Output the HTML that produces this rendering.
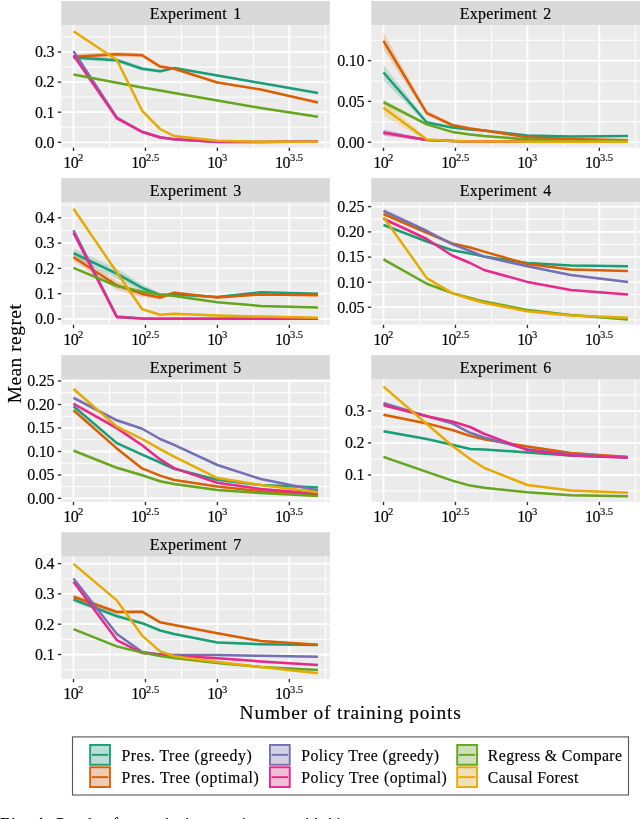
<!DOCTYPE html>
<html><head><meta charset="utf-8"><style>
html,body{margin:0;padding:0;background:#fff}
body{width:640px;height:819px;overflow:hidden;position:relative}
svg{position:absolute;left:0;top:0;display:block;will-change:transform}
text{font-family:"Liberation Serif", serif;fill:#000;stroke:#000;stroke-width:0.15px}
.st{font-size:16px;letter-spacing:0.27px;word-spacing:1.9px}
.tl{font-size:16px;letter-spacing:-0.25px}
.xl{font-size:16px;letter-spacing:-0.6px}
.sup{font-size:10.6px;letter-spacing:0}
.lg{font-size:15.8px}
.xt{font-size:19.4px;letter-spacing:0.8px}
.yt{font-size:19.4px;letter-spacing:0.5px}
.cap{font-size:15px;letter-spacing:0.5px}
.ma{stroke:#fff;stroke-width:1.8}
.mi{stroke:#fff;stroke-width:1.0}
.tk{stroke:#333;stroke-width:1.4}
</style></head><body>
<svg width="640" height="819" viewBox="0 0 640 819">
<g><rect x="61.25" y="1" width="268.75" height="24.4" fill="#D9D9D9"/><text x="195.62" y="18.75" text-anchor="middle" class="st">Experiment 1</text><rect x="61.25" y="25.4" width="268.75" height="122.2" fill="#EBEBEB"/><line x1="61.25" x2="330" y1="127.25" y2="127.25" class="mi"/><line x1="61.25" x2="330" y1="97.15" y2="97.15" class="mi"/><line x1="61.25" x2="330" y1="67.05" y2="67.05" class="mi"/><line x1="61.25" x2="330" y1="36.95" y2="36.95" class="mi"/><line x1="109.47" x2="109.47" y1="25.4" y2="147.6" class="mi"/><line x1="181.43" x2="181.43" y1="25.4" y2="147.6" class="mi"/><line x1="253.38" x2="253.38" y1="25.4" y2="147.6" class="mi"/><line x1="325.33" x2="325.33" y1="25.4" y2="147.6" class="mi"/><line x1="61.25" x2="330" y1="142.3" y2="142.3" class="ma"/><line x1="57.85" x2="61.25" y1="142.3" y2="142.3" class="tk"/><text x="54.25" y="147.6" text-anchor="end" class="tl">0.0</text><line x1="61.25" x2="330" y1="112.2" y2="112.2" class="ma"/><line x1="57.85" x2="61.25" y1="112.2" y2="112.2" class="tk"/><text x="54.25" y="117.5" text-anchor="end" class="tl">0.1</text><line x1="61.25" x2="330" y1="82.1" y2="82.1" class="ma"/><line x1="57.85" x2="61.25" y1="82.1" y2="82.1" class="tk"/><text x="54.25" y="87.4" text-anchor="end" class="tl">0.2</text><line x1="61.25" x2="330" y1="52" y2="52" class="ma"/><line x1="57.85" x2="61.25" y1="52" y2="52" class="tk"/><text x="54.25" y="57.3" text-anchor="end" class="tl">0.3</text><line x1="73.5" x2="73.5" y1="25.4" y2="147.6" class="ma"/><line x1="73.5" x2="73.5" y1="147.6" y2="151" class="tk"/><text x="73.3" y="168" text-anchor="middle" class="xl">10<tspan dy="-6.8" class="sup">2</tspan></text><line x1="145.45" x2="145.45" y1="25.4" y2="147.6" class="ma"/><line x1="145.45" x2="145.45" y1="147.6" y2="151" class="tk"/><text x="145.25" y="168" text-anchor="middle" class="xl">10<tspan dy="-6.8" class="sup">2.5</tspan></text><line x1="217.4" x2="217.4" y1="25.4" y2="147.6" class="ma"/><line x1="217.4" x2="217.4" y1="147.6" y2="151" class="tk"/><text x="217.2" y="168" text-anchor="middle" class="xl">10<tspan dy="-6.8" class="sup">3</tspan></text><line x1="289.35" x2="289.35" y1="25.4" y2="147.6" class="ma"/><line x1="289.35" x2="289.35" y1="147.6" y2="151" class="tk"/><text x="289.15" y="168" text-anchor="middle" class="xl">10<tspan dy="-6.8" class="sup">3.5</tspan></text><polygon points="73.5,55.3 116.82,58.3 142.16,66.75 160.14,69.75 174.08,66.6 217.4,74.6 260.72,82.1 317.98,92 317.98,94 260.72,84.1 217.4,76.6 174.08,69.6 160.14,72.75 142.16,70.75 116.82,62.3 73.5,59.7" fill="#1B9E77" fill-opacity="0.22"/><polygon points="73.5,54 116.82,51.8 142.16,53.1 160.14,65.1 174.08,67.25 217.4,81.5 260.72,88.5 317.98,101.5 317.98,103.5 260.72,90.5 217.4,83.5 174.08,70.25 160.14,68.1 142.16,57.5 116.82,56.8 73.5,59.6" fill="#D95F02" fill-opacity="0.22"/><polygon points="73.5,50.1 116.82,116.5 142.16,130.8 160.14,136.3 174.08,138.2 217.4,140.8 260.72,141 317.98,140.6 317.98,142.6 260.72,143 217.4,142.8 174.08,140.2 160.14,138.3 142.16,132.8 116.82,118.5 73.5,52.1" fill="#7570B3" fill-opacity="0.22"/><polygon points="73.5,54.4 116.82,117.4 142.16,131 160.14,136.5 174.08,138.2 217.4,140.9 260.72,141 317.98,140.6 317.98,142.6 260.72,143 217.4,142.9 174.08,140.2 160.14,138.5 142.16,133 116.82,119.4 73.5,56.4" fill="#E7298A" fill-opacity="0.22"/><polygon points="73.5,73.4 116.82,81.8 142.16,86.5 160.14,89.6 174.08,92.1 217.4,99.5 260.72,107 317.98,115.75 317.98,117.75 260.72,109 217.4,101.5 174.08,94.1 160.14,91.6 142.16,88.5 116.82,83.8 73.5,75.4" fill="#66A61E" fill-opacity="0.22"/><polygon points="73.5,30.25 116.82,59 142.16,109.8 160.14,128 174.08,135 217.4,139.8 260.72,140.75 317.98,140.75 317.98,142.75 260.72,142.75 217.4,141.8 174.08,137 160.14,130 142.16,111.8 116.82,61 73.5,32.25" fill="#E6AB02" fill-opacity="0.22"/><polyline points="73.5,57.5 116.82,60.3 142.16,68.75 160.14,71.25 174.08,68.1 217.4,75.6 260.72,83.1 317.98,93" fill="none" stroke="#1B9E77" stroke-width="2.5" stroke-linejoin="round"/><polyline points="73.5,56.8 116.82,54.3 142.16,55.3 160.14,66.6 174.08,68.75 217.4,82.5 260.72,89.5 317.98,102.5" fill="none" stroke="#D95F02" stroke-width="2.5" stroke-linejoin="round"/><polyline points="73.5,51.1 116.82,117.5 142.16,131.8 160.14,137.3 174.08,139.2 217.4,141.8 260.72,142 317.98,141.6" fill="none" stroke="#7570B3" stroke-width="2.5" stroke-linejoin="round"/><polyline points="73.5,55.4 116.82,118.4 142.16,132 160.14,137.5 174.08,139.2 217.4,141.9 260.72,142 317.98,141.6" fill="none" stroke="#E7298A" stroke-width="2.5" stroke-linejoin="round"/><polyline points="73.5,74.4 116.82,82.8 142.16,87.5 160.14,90.6 174.08,93.1 217.4,100.5 260.72,108 317.98,116.75" fill="none" stroke="#66A61E" stroke-width="2.5" stroke-linejoin="round"/><polyline points="73.5,31.25 116.82,60 142.16,110.8 160.14,129 174.08,136 217.4,140.8 260.72,141.75 317.98,141.75" fill="none" stroke="#E6AB02" stroke-width="2.5" stroke-linejoin="round"/></g>
<g><rect x="371.25" y="1" width="268.75" height="24.4" fill="#D9D9D9"/><text x="505.62" y="18.75" text-anchor="middle" class="st">Experiment 2</text><rect x="371.25" y="25.4" width="268.75" height="122.2" fill="#EBEBEB"/><line x1="371.25" x2="640" y1="121.8" y2="121.8" class="mi"/><line x1="371.25" x2="640" y1="81" y2="81" class="mi"/><line x1="371.25" x2="640" y1="40.2" y2="40.2" class="mi"/><line x1="419.48" x2="419.48" y1="25.4" y2="147.6" class="mi"/><line x1="491.43" x2="491.43" y1="25.4" y2="147.6" class="mi"/><line x1="563.38" x2="563.38" y1="25.4" y2="147.6" class="mi"/><line x1="635.33" x2="635.33" y1="25.4" y2="147.6" class="mi"/><line x1="371.25" x2="640" y1="142.2" y2="142.2" class="ma"/><line x1="367.85" x2="371.25" y1="142.2" y2="142.2" class="tk"/><text x="364.25" y="147.5" text-anchor="end" class="tl">0.00</text><line x1="371.25" x2="640" y1="101.4" y2="101.4" class="ma"/><line x1="367.85" x2="371.25" y1="101.4" y2="101.4" class="tk"/><text x="364.25" y="106.7" text-anchor="end" class="tl">0.05</text><line x1="371.25" x2="640" y1="60.6" y2="60.6" class="ma"/><line x1="367.85" x2="371.25" y1="60.6" y2="60.6" class="tk"/><text x="364.25" y="65.9" text-anchor="end" class="tl">0.10</text><line x1="383.5" x2="383.5" y1="25.4" y2="147.6" class="ma"/><line x1="383.5" x2="383.5" y1="147.6" y2="151" class="tk"/><text x="383.3" y="168" text-anchor="middle" class="xl">10<tspan dy="-6.8" class="sup">2</tspan></text><line x1="455.45" x2="455.45" y1="25.4" y2="147.6" class="ma"/><line x1="455.45" x2="455.45" y1="147.6" y2="151" class="tk"/><text x="455.25" y="168" text-anchor="middle" class="xl">10<tspan dy="-6.8" class="sup">2.5</tspan></text><line x1="527.4" x2="527.4" y1="25.4" y2="147.6" class="ma"/><line x1="527.4" x2="527.4" y1="147.6" y2="151" class="tk"/><text x="527.2" y="168" text-anchor="middle" class="xl">10<tspan dy="-6.8" class="sup">3</tspan></text><line x1="599.35" x2="599.35" y1="25.4" y2="147.6" class="ma"/><line x1="599.35" x2="599.35" y1="147.6" y2="151" class="tk"/><text x="599.15" y="168" text-anchor="middle" class="xl">10<tspan dy="-6.8" class="sup">3.5</tspan></text><polygon points="383.5,64.8 426.82,120.5 452.16,126 470.14,128.5 484.08,129.5 527.4,134.6 570.72,135.6 627.98,135 627.98,137 570.72,137.6 527.4,136.6 484.08,131.5 470.14,130.5 452.16,129 426.82,124.5 383.5,80.2" fill="#1B9E77" fill-opacity="0.22"/><polygon points="383.5,32.4 426.82,110.6 452.16,123.5 470.14,127.5 484.08,129.6 527.4,136.2 570.72,138 627.98,139.3 627.98,141.3 570.72,140 527.4,138.2 484.08,131.6 470.14,129.5 452.16,126.5 426.82,115.6 383.5,49.6" fill="#D95F02" fill-opacity="0.22"/><polygon points="383.5,129.4 426.82,139 452.16,140 470.14,140.5 484.08,140.5 527.4,140.7 570.72,140.7 627.98,140.7 627.98,142.7 570.72,142.7 527.4,142.7 484.08,142.5 470.14,142.5 452.16,142 426.82,141 383.5,135.4" fill="#7570B3" fill-opacity="0.22"/><polygon points="383.5,129.8 426.82,139 452.16,140 470.14,140.5 484.08,140.5 527.4,140.7 570.72,140.7 627.98,140.7 627.98,142.7 570.72,142.7 527.4,142.7 484.08,142.5 470.14,142.5 452.16,142 426.82,141 383.5,135.8" fill="#E7298A" fill-opacity="0.22"/><polygon points="383.5,99.2 426.82,123.4 452.16,130.9 470.14,133.5 484.08,135 527.4,138.4 570.72,139.5 627.98,140 627.98,142 570.72,141.5 527.4,140.4 484.08,137 470.14,135.5 452.16,132.9 426.82,125.4 383.5,105.2" fill="#66A61E" fill-opacity="0.22"/><polygon points="383.5,99.8 426.82,137.9 452.16,140 470.14,140.5 484.08,140.5 527.4,140.7 570.72,140.8 627.98,140.8 627.98,142.8 570.72,142.8 527.4,142.7 484.08,142.5 470.14,142.5 452.16,142 426.82,140.9 383.5,115.8" fill="#E6AB02" fill-opacity="0.22"/><polyline points="383.5,72.5 426.82,122.5 452.16,127.5 470.14,129.5 484.08,130.5 527.4,135.6 570.72,136.6 627.98,136" fill="none" stroke="#1B9E77" stroke-width="2.5" stroke-linejoin="round"/><polyline points="383.5,41 426.82,113.1 452.16,125 470.14,128.5 484.08,130.6 527.4,137.2 570.72,139 627.98,140.3" fill="none" stroke="#D95F02" stroke-width="2.5" stroke-linejoin="round"/><polyline points="383.5,132.4 426.82,140 452.16,141 470.14,141.5 484.08,141.5 527.4,141.7 570.72,141.7 627.98,141.7" fill="none" stroke="#7570B3" stroke-width="2.5" stroke-linejoin="round"/><polyline points="383.5,132.8 426.82,140 452.16,141 470.14,141.5 484.08,141.5 527.4,141.7 570.72,141.7 627.98,141.7" fill="none" stroke="#E7298A" stroke-width="2.5" stroke-linejoin="round"/><polyline points="383.5,102.2 426.82,124.4 452.16,131.9 470.14,134.5 484.08,136 527.4,139.4 570.72,140.5 627.98,141" fill="none" stroke="#66A61E" stroke-width="2.5" stroke-linejoin="round"/><polyline points="383.5,107.8 426.82,139.4 452.16,141 470.14,141.5 484.08,141.5 527.4,141.7 570.72,141.8 627.98,141.8" fill="none" stroke="#E6AB02" stroke-width="2.5" stroke-linejoin="round"/></g>
<g><rect x="61.25" y="178.1" width="268.75" height="24.4" fill="#D9D9D9"/><text x="195.62" y="195.85" text-anchor="middle" class="st">Experiment 3</text><rect x="61.25" y="202.5" width="268.75" height="122.2" fill="#EBEBEB"/><line x1="61.25" x2="330" y1="306.35" y2="306.35" class="mi"/><line x1="61.25" x2="330" y1="281.05" y2="281.05" class="mi"/><line x1="61.25" x2="330" y1="255.75" y2="255.75" class="mi"/><line x1="61.25" x2="330" y1="230.45" y2="230.45" class="mi"/><line x1="61.25" x2="330" y1="205.15" y2="205.15" class="mi"/><line x1="109.47" x2="109.47" y1="202.5" y2="324.7" class="mi"/><line x1="181.43" x2="181.43" y1="202.5" y2="324.7" class="mi"/><line x1="253.38" x2="253.38" y1="202.5" y2="324.7" class="mi"/><line x1="325.33" x2="325.33" y1="202.5" y2="324.7" class="mi"/><line x1="61.25" x2="330" y1="319" y2="319" class="ma"/><line x1="57.85" x2="61.25" y1="319" y2="319" class="tk"/><text x="54.25" y="324.3" text-anchor="end" class="tl">0.0</text><line x1="61.25" x2="330" y1="293.7" y2="293.7" class="ma"/><line x1="57.85" x2="61.25" y1="293.7" y2="293.7" class="tk"/><text x="54.25" y="299" text-anchor="end" class="tl">0.1</text><line x1="61.25" x2="330" y1="268.4" y2="268.4" class="ma"/><line x1="57.85" x2="61.25" y1="268.4" y2="268.4" class="tk"/><text x="54.25" y="273.7" text-anchor="end" class="tl">0.2</text><line x1="61.25" x2="330" y1="243.1" y2="243.1" class="ma"/><line x1="57.85" x2="61.25" y1="243.1" y2="243.1" class="tk"/><text x="54.25" y="248.4" text-anchor="end" class="tl">0.3</text><line x1="61.25" x2="330" y1="217.8" y2="217.8" class="ma"/><line x1="57.85" x2="61.25" y1="217.8" y2="217.8" class="tk"/><text x="54.25" y="223.1" text-anchor="end" class="tl">0.4</text><line x1="73.5" x2="73.5" y1="202.5" y2="324.7" class="ma"/><line x1="73.5" x2="73.5" y1="324.7" y2="328.1" class="tk"/><text x="73.3" y="345.1" text-anchor="middle" class="xl">10<tspan dy="-6.8" class="sup">2</tspan></text><line x1="145.45" x2="145.45" y1="202.5" y2="324.7" class="ma"/><line x1="145.45" x2="145.45" y1="324.7" y2="328.1" class="tk"/><text x="145.25" y="345.1" text-anchor="middle" class="xl">10<tspan dy="-6.8" class="sup">2.5</tspan></text><line x1="217.4" x2="217.4" y1="202.5" y2="324.7" class="ma"/><line x1="217.4" x2="217.4" y1="324.7" y2="328.1" class="tk"/><text x="217.2" y="345.1" text-anchor="middle" class="xl">10<tspan dy="-6.8" class="sup">3</tspan></text><line x1="289.35" x2="289.35" y1="202.5" y2="324.7" class="ma"/><line x1="289.35" x2="289.35" y1="324.7" y2="328.1" class="tk"/><text x="289.15" y="345.1" text-anchor="middle" class="xl">10<tspan dy="-6.8" class="sup">3.5</tspan></text><polygon points="73.5,248.6 116.82,268.6 142.16,284.3 160.14,293 174.08,292.9 217.4,295.9 260.72,291.2 317.98,292.75 317.98,294.75 260.72,293.2 217.4,297.9 174.08,295.9 160.14,297 142.16,291.3 116.82,278.6 73.5,257.6" fill="#1B9E77" fill-opacity="0.22"/><polygon points="73.5,253.2 116.82,280.8 142.16,290.9 160.14,295.5 174.08,291.3 217.4,296.5 260.72,293.4 317.98,294.3 317.98,296.3 260.72,295.4 217.4,298.5 174.08,294.3 160.14,299.5 142.16,296.9 116.82,289.8 73.5,261.2" fill="#D95F02" fill-opacity="0.22"/><polygon points="73.5,228.8 116.82,315.5 142.16,317.6 160.14,317.8 174.08,317.8 217.4,317.8 260.72,317.8 317.98,317.75 317.98,319.75 260.72,319.8 217.4,319.8 174.08,319.8 160.14,319.8 142.16,319.6 116.82,317.5 73.5,231.8" fill="#7570B3" fill-opacity="0.22"/><polygon points="73.5,231.3 116.82,316.2 142.16,317.6 160.14,317.8 174.08,317.8 217.4,317.8 260.72,317.8 317.98,317.75 317.98,319.75 260.72,319.8 217.4,319.8 174.08,319.8 160.14,319.8 142.16,319.6 116.82,318.2 73.5,234.3" fill="#E7298A" fill-opacity="0.22"/><polygon points="73.5,266.8 116.82,285 142.16,290.6 160.14,293.5 174.08,295 217.4,301.2 260.72,305 317.98,306.5 317.98,308.5 260.72,307 217.4,303.2 174.08,297 160.14,295.5 142.16,292.6 116.82,287 73.5,268.8" fill="#66A61E" fill-opacity="0.22"/><polygon points="73.5,207.75 116.82,271.3 142.16,308.2 160.14,313.7 174.08,312.75 217.4,314.6 260.72,315.6 317.98,316.8 317.98,318.8 260.72,317.6 217.4,316.6 174.08,314.75 160.14,315.7 142.16,310.2 116.82,273.3 73.5,209.75" fill="#E6AB02" fill-opacity="0.22"/><polyline points="73.5,253.1 116.82,273.6 142.16,287.8 160.14,295 174.08,294.4 217.4,296.9 260.72,292.2 317.98,293.75" fill="none" stroke="#1B9E77" stroke-width="2.5" stroke-linejoin="round"/><polyline points="73.5,257.2 116.82,285.3 142.16,293.9 160.14,297.5 174.08,292.8 217.4,297.5 260.72,294.4 317.98,295.3" fill="none" stroke="#D95F02" stroke-width="2.5" stroke-linejoin="round"/><polyline points="73.5,230.3 116.82,316.5 142.16,318.6 160.14,318.8 174.08,318.8 217.4,318.8 260.72,318.8 317.98,318.75" fill="none" stroke="#7570B3" stroke-width="2.5" stroke-linejoin="round"/><polyline points="73.5,232.8 116.82,317.2 142.16,318.6 160.14,318.8 174.08,318.8 217.4,318.8 260.72,318.8 317.98,318.75" fill="none" stroke="#E7298A" stroke-width="2.5" stroke-linejoin="round"/><polyline points="73.5,267.8 116.82,286 142.16,291.6 160.14,294.5 174.08,296 217.4,302.2 260.72,306 317.98,307.5" fill="none" stroke="#66A61E" stroke-width="2.5" stroke-linejoin="round"/><polyline points="73.5,208.75 116.82,272.3 142.16,309.2 160.14,314.7 174.08,313.75 217.4,315.6 260.72,316.6 317.98,317.8" fill="none" stroke="#E6AB02" stroke-width="2.5" stroke-linejoin="round"/></g>
<g><rect x="371.25" y="178.1" width="268.75" height="24.4" fill="#D9D9D9"/><text x="505.62" y="195.85" text-anchor="middle" class="st">Experiment 4</text><rect x="371.25" y="202.5" width="268.75" height="122.2" fill="#EBEBEB"/><line x1="371.25" x2="640" y1="319.77" y2="319.77" class="mi"/><line x1="371.25" x2="640" y1="294.62" y2="294.62" class="mi"/><line x1="371.25" x2="640" y1="269.48" y2="269.48" class="mi"/><line x1="371.25" x2="640" y1="244.32" y2="244.32" class="mi"/><line x1="371.25" x2="640" y1="219.18" y2="219.18" class="mi"/><line x1="419.48" x2="419.48" y1="202.5" y2="324.7" class="mi"/><line x1="491.43" x2="491.43" y1="202.5" y2="324.7" class="mi"/><line x1="563.38" x2="563.38" y1="202.5" y2="324.7" class="mi"/><line x1="635.33" x2="635.33" y1="202.5" y2="324.7" class="mi"/><line x1="371.25" x2="640" y1="307.2" y2="307.2" class="ma"/><line x1="367.85" x2="371.25" y1="307.2" y2="307.2" class="tk"/><text x="364.25" y="312.5" text-anchor="end" class="tl">0.05</text><line x1="371.25" x2="640" y1="282.2" y2="282.2" class="ma"/><line x1="367.85" x2="371.25" y1="282.2" y2="282.2" class="tk"/><text x="364.25" y="287.5" text-anchor="end" class="tl">0.10</text><line x1="371.25" x2="640" y1="257.1" y2="257.1" class="ma"/><line x1="367.85" x2="371.25" y1="257.1" y2="257.1" class="tk"/><text x="364.25" y="262.4" text-anchor="end" class="tl">0.15</text><line x1="371.25" x2="640" y1="231.9" y2="231.9" class="ma"/><line x1="367.85" x2="371.25" y1="231.9" y2="231.9" class="tk"/><text x="364.25" y="237.2" text-anchor="end" class="tl">0.20</text><line x1="371.25" x2="640" y1="206.6" y2="206.6" class="ma"/><line x1="367.85" x2="371.25" y1="206.6" y2="206.6" class="tk"/><text x="364.25" y="211.9" text-anchor="end" class="tl">0.25</text><line x1="383.5" x2="383.5" y1="202.5" y2="324.7" class="ma"/><line x1="383.5" x2="383.5" y1="324.7" y2="328.1" class="tk"/><text x="383.3" y="345.1" text-anchor="middle" class="xl">10<tspan dy="-6.8" class="sup">2</tspan></text><line x1="455.45" x2="455.45" y1="202.5" y2="324.7" class="ma"/><line x1="455.45" x2="455.45" y1="324.7" y2="328.1" class="tk"/><text x="455.25" y="345.1" text-anchor="middle" class="xl">10<tspan dy="-6.8" class="sup">2.5</tspan></text><line x1="527.4" x2="527.4" y1="202.5" y2="324.7" class="ma"/><line x1="527.4" x2="527.4" y1="324.7" y2="328.1" class="tk"/><text x="527.2" y="345.1" text-anchor="middle" class="xl">10<tspan dy="-6.8" class="sup">3</tspan></text><line x1="599.35" x2="599.35" y1="202.5" y2="324.7" class="ma"/><line x1="599.35" x2="599.35" y1="324.7" y2="328.1" class="tk"/><text x="599.15" y="345.1" text-anchor="middle" class="xl">10<tspan dy="-6.8" class="sup">3.5</tspan></text><polygon points="383.5,223.5 426.82,240.5 452.16,249.3 470.14,252.5 484.08,255.5 527.4,262.1 570.72,264.6 627.98,265.25 627.98,267.25 570.72,266.6 527.4,264.1 484.08,257.5 470.14,254.5 452.16,251.3 426.82,242.5 383.5,226.5" fill="#1B9E77" fill-opacity="0.22"/><polygon points="383.5,212.5 426.82,231.8 452.16,242.5 470.14,246.5 484.08,250.6 527.4,263 570.72,268.4 627.98,269.9 627.98,271.9 570.72,270.4 527.4,265 484.08,252.6 470.14,248.5 452.16,244.5 426.82,233.8 383.5,215.5" fill="#D95F02" fill-opacity="0.22"/><polygon points="383.5,208.3 426.82,229 452.16,242.7 470.14,250 484.08,255.6 527.4,265.25 570.72,274 627.98,280.9 627.98,282.9 570.72,276 527.4,267.25 484.08,257.6 470.14,252 452.16,245.7 426.82,233 383.5,213.3" fill="#7570B3" fill-opacity="0.22"/><polygon points="383.5,217.25 426.82,238 452.16,254.5 470.14,262 484.08,269 527.4,280.9 570.72,289 627.98,293.4 627.98,295.4 570.72,291 527.4,282.9 484.08,271 470.14,264 452.16,256.5 426.82,240 383.5,220.25" fill="#E7298A" fill-opacity="0.22"/><polygon points="383.5,257.9 426.82,282.75 452.16,292.1 470.14,297 484.08,300.6 527.4,309 570.72,314 627.98,318.4 627.98,320.4 570.72,316 527.4,311 484.08,302.6 470.14,299 452.16,294.1 426.82,284.75 383.5,260.9" fill="#66A61E" fill-opacity="0.22"/><polygon points="383.5,215.7 426.82,277.1 452.16,292.1 470.14,298 484.08,301.8 527.4,310.3 570.72,314.6 627.98,316.8 627.98,318.8 570.72,316.6 527.4,312.3 484.08,303.8 470.14,300 452.16,294.1 426.82,279.1 383.5,218.7" fill="#E6AB02" fill-opacity="0.22"/><polyline points="383.5,225 426.82,241.5 452.16,250.3 470.14,253.5 484.08,256.5 527.4,263.1 570.72,265.6 627.98,266.25" fill="none" stroke="#1B9E77" stroke-width="2.5" stroke-linejoin="round"/><polyline points="383.5,214 426.82,232.8 452.16,243.5 470.14,247.5 484.08,251.6 527.4,264 570.72,269.4 627.98,270.9" fill="none" stroke="#D95F02" stroke-width="2.5" stroke-linejoin="round"/><polyline points="383.5,210.8 426.82,231 452.16,244.2 470.14,251 484.08,256.6 527.4,266.25 570.72,275 627.98,281.9" fill="none" stroke="#7570B3" stroke-width="2.5" stroke-linejoin="round"/><polyline points="383.5,218.75 426.82,239 452.16,255.5 470.14,263 484.08,270 527.4,281.9 570.72,290 627.98,294.4" fill="none" stroke="#E7298A" stroke-width="2.5" stroke-linejoin="round"/><polyline points="383.5,259.4 426.82,283.75 452.16,293.1 470.14,298 484.08,301.6 527.4,310 570.72,315 627.98,319.4" fill="none" stroke="#66A61E" stroke-width="2.5" stroke-linejoin="round"/><polyline points="383.5,217.2 426.82,278.1 452.16,293.1 470.14,299 484.08,302.8 527.4,311.3 570.72,315.6 627.98,317.8" fill="none" stroke="#E6AB02" stroke-width="2.5" stroke-linejoin="round"/></g>
<g><rect x="61.25" y="355.2" width="268.75" height="24.4" fill="#D9D9D9"/><text x="195.62" y="372.95" text-anchor="middle" class="st">Experiment 5</text><rect x="61.25" y="379.6" width="268.75" height="122.2" fill="#EBEBEB"/><line x1="61.25" x2="330" y1="486.66" y2="486.66" class="mi"/><line x1="61.25" x2="330" y1="463.18" y2="463.18" class="mi"/><line x1="61.25" x2="330" y1="439.7" y2="439.7" class="mi"/><line x1="61.25" x2="330" y1="416.22" y2="416.22" class="mi"/><line x1="61.25" x2="330" y1="392.74" y2="392.74" class="mi"/><line x1="109.47" x2="109.47" y1="379.6" y2="501.8" class="mi"/><line x1="181.43" x2="181.43" y1="379.6" y2="501.8" class="mi"/><line x1="253.38" x2="253.38" y1="379.6" y2="501.8" class="mi"/><line x1="325.33" x2="325.33" y1="379.6" y2="501.8" class="mi"/><line x1="61.25" x2="330" y1="498.4" y2="498.4" class="ma"/><line x1="57.85" x2="61.25" y1="498.4" y2="498.4" class="tk"/><text x="54.25" y="503.7" text-anchor="end" class="tl">0.00</text><line x1="61.25" x2="330" y1="475" y2="475" class="ma"/><line x1="57.85" x2="61.25" y1="475" y2="475" class="tk"/><text x="54.25" y="480.3" text-anchor="end" class="tl">0.05</text><line x1="61.25" x2="330" y1="451.5" y2="451.5" class="ma"/><line x1="57.85" x2="61.25" y1="451.5" y2="451.5" class="tk"/><text x="54.25" y="456.8" text-anchor="end" class="tl">0.10</text><line x1="61.25" x2="330" y1="428" y2="428" class="ma"/><line x1="57.85" x2="61.25" y1="428" y2="428" class="tk"/><text x="54.25" y="433.3" text-anchor="end" class="tl">0.15</text><line x1="61.25" x2="330" y1="404.5" y2="404.5" class="ma"/><line x1="57.85" x2="61.25" y1="404.5" y2="404.5" class="tk"/><text x="54.25" y="409.8" text-anchor="end" class="tl">0.20</text><line x1="61.25" x2="330" y1="381" y2="381" class="ma"/><line x1="57.85" x2="61.25" y1="381" y2="381" class="tk"/><text x="54.25" y="386.3" text-anchor="end" class="tl">0.25</text><line x1="73.5" x2="73.5" y1="379.6" y2="501.8" class="ma"/><line x1="73.5" x2="73.5" y1="501.8" y2="505.2" class="tk"/><text x="73.3" y="522.2" text-anchor="middle" class="xl">10<tspan dy="-6.8" class="sup">2</tspan></text><line x1="145.45" x2="145.45" y1="379.6" y2="501.8" class="ma"/><line x1="145.45" x2="145.45" y1="501.8" y2="505.2" class="tk"/><text x="145.25" y="522.2" text-anchor="middle" class="xl">10<tspan dy="-6.8" class="sup">2.5</tspan></text><line x1="217.4" x2="217.4" y1="379.6" y2="501.8" class="ma"/><line x1="217.4" x2="217.4" y1="501.8" y2="505.2" class="tk"/><text x="217.2" y="522.2" text-anchor="middle" class="xl">10<tspan dy="-6.8" class="sup">3</tspan></text><line x1="289.35" x2="289.35" y1="379.6" y2="501.8" class="ma"/><line x1="289.35" x2="289.35" y1="501.8" y2="505.2" class="tk"/><text x="289.15" y="522.2" text-anchor="middle" class="xl">10<tspan dy="-6.8" class="sup">3.5</tspan></text><polygon points="73.5,404.25 116.82,441.6 142.16,453.7 160.14,461.5 174.08,467.75 217.4,478.7 260.72,484 317.98,486.5 317.98,488.5 260.72,486 217.4,480.7 174.08,469.75 160.14,463.5 142.16,455.7 116.82,444.6 73.5,408.25" fill="#1B9E77" fill-opacity="0.22"/><polygon points="73.5,408.3 116.82,446.9 142.16,467.4 160.14,474.6 174.08,479 217.4,485.6 260.72,490.25 317.98,493.7 317.98,495.7 260.72,492.25 217.4,487.6 174.08,481 160.14,476.6 142.16,469.4 116.82,449.9 73.5,412.3" fill="#D95F02" fill-opacity="0.22"/><polygon points="73.5,395.8 116.82,418.8 142.16,427.75 160.14,438 174.08,443.8 217.4,464 260.72,478 317.98,489.6 317.98,491.6 260.72,480 217.4,466 174.08,445.8 160.14,440 142.16,429.75 116.82,421.8 73.5,399.8" fill="#7570B3" fill-opacity="0.22"/><polygon points="73.5,401.75 116.82,426.6 142.16,444.3 160.14,458.4 174.08,467.1 217.4,481.8 260.72,488 317.98,492.75 317.98,494.75 260.72,490 217.4,483.8 174.08,469.1 160.14,460.4 142.16,446.3 116.82,429.6 73.5,405.75" fill="#E7298A" fill-opacity="0.22"/><polygon points="73.5,448.6 116.82,466.3 142.16,474.3 160.14,480.25 174.08,483 217.4,489 260.72,492.1 317.98,495 317.98,497 260.72,494.1 217.4,491 174.08,485 160.14,482.25 142.16,476.3 116.82,469.3 73.5,452.6" fill="#66A61E" fill-opacity="0.22"/><polygon points="73.5,387 116.82,425.1 142.16,438 160.14,448.2 174.08,455.6 217.4,477.1 260.72,484 317.98,491.2 317.98,493.2 260.72,486 217.4,479.1 174.08,457.6 160.14,450.2 142.16,440 116.82,428.1 73.5,391" fill="#E6AB02" fill-opacity="0.22"/><polyline points="73.5,406.25 116.82,443.1 142.16,454.7 160.14,462.5 174.08,468.75 217.4,479.7 260.72,485 317.98,487.5" fill="none" stroke="#1B9E77" stroke-width="2.5" stroke-linejoin="round"/><polyline points="73.5,410.3 116.82,448.4 142.16,468.4 160.14,475.6 174.08,480 217.4,486.6 260.72,491.25 317.98,494.7" fill="none" stroke="#D95F02" stroke-width="2.5" stroke-linejoin="round"/><polyline points="73.5,397.8 116.82,420.3 142.16,428.75 160.14,439 174.08,444.8 217.4,465 260.72,479 317.98,490.6" fill="none" stroke="#7570B3" stroke-width="2.5" stroke-linejoin="round"/><polyline points="73.5,403.75 116.82,428.1 142.16,445.3 160.14,459.4 174.08,468.1 217.4,482.8 260.72,489 317.98,493.75" fill="none" stroke="#E7298A" stroke-width="2.5" stroke-linejoin="round"/><polyline points="73.5,450.6 116.82,467.8 142.16,475.3 160.14,481.25 174.08,484 217.4,490 260.72,493.1 317.98,496" fill="none" stroke="#66A61E" stroke-width="2.5" stroke-linejoin="round"/><polyline points="73.5,389 116.82,426.6 142.16,439 160.14,449.2 174.08,456.6 217.4,478.1 260.72,485 317.98,492.2" fill="none" stroke="#E6AB02" stroke-width="2.5" stroke-linejoin="round"/></g>
<g><rect x="371.25" y="355.2" width="268.75" height="24.4" fill="#D9D9D9"/><text x="505.62" y="372.95" text-anchor="middle" class="st">Experiment 6</text><rect x="371.25" y="379.6" width="268.75" height="122.2" fill="#EBEBEB"/><line x1="371.25" x2="640" y1="491.02" y2="491.02" class="mi"/><line x1="371.25" x2="640" y1="458.98" y2="458.98" class="mi"/><line x1="371.25" x2="640" y1="426.92" y2="426.92" class="mi"/><line x1="371.25" x2="640" y1="394.88" y2="394.88" class="mi"/><line x1="419.48" x2="419.48" y1="379.6" y2="501.8" class="mi"/><line x1="491.43" x2="491.43" y1="379.6" y2="501.8" class="mi"/><line x1="563.38" x2="563.38" y1="379.6" y2="501.8" class="mi"/><line x1="635.33" x2="635.33" y1="379.6" y2="501.8" class="mi"/><line x1="371.25" x2="640" y1="475" y2="475" class="ma"/><line x1="367.85" x2="371.25" y1="475" y2="475" class="tk"/><text x="364.25" y="480.3" text-anchor="end" class="tl">0.1</text><line x1="371.25" x2="640" y1="442.9" y2="442.9" class="ma"/><line x1="367.85" x2="371.25" y1="442.9" y2="442.9" class="tk"/><text x="364.25" y="448.2" text-anchor="end" class="tl">0.2</text><line x1="371.25" x2="640" y1="410.9" y2="410.9" class="ma"/><line x1="367.85" x2="371.25" y1="410.9" y2="410.9" class="tk"/><text x="364.25" y="416.2" text-anchor="end" class="tl">0.3</text><line x1="383.5" x2="383.5" y1="379.6" y2="501.8" class="ma"/><line x1="383.5" x2="383.5" y1="501.8" y2="505.2" class="tk"/><text x="383.3" y="522.2" text-anchor="middle" class="xl">10<tspan dy="-6.8" class="sup">2</tspan></text><line x1="455.45" x2="455.45" y1="379.6" y2="501.8" class="ma"/><line x1="455.45" x2="455.45" y1="501.8" y2="505.2" class="tk"/><text x="455.25" y="522.2" text-anchor="middle" class="xl">10<tspan dy="-6.8" class="sup">2.5</tspan></text><line x1="527.4" x2="527.4" y1="379.6" y2="501.8" class="ma"/><line x1="527.4" x2="527.4" y1="501.8" y2="505.2" class="tk"/><text x="527.2" y="522.2" text-anchor="middle" class="xl">10<tspan dy="-6.8" class="sup">3</tspan></text><line x1="599.35" x2="599.35" y1="379.6" y2="501.8" class="ma"/><line x1="599.35" x2="599.35" y1="501.8" y2="505.2" class="tk"/><text x="599.15" y="522.2" text-anchor="middle" class="xl">10<tspan dy="-6.8" class="sup">3.5</tspan></text><polygon points="383.5,429.75 426.82,438 452.16,443.8 470.14,448 484.08,448.4 527.4,451.5 570.72,454.6 627.98,456.2 627.98,458.2 570.72,456.6 527.4,453.5 484.08,450.4 470.14,450 452.16,445.8 426.82,440 383.5,432.75" fill="#1B9E77" fill-opacity="0.22"/><polygon points="383.5,413.2 426.82,422.4 452.16,429 470.14,434.9 484.08,438.3 527.4,445.5 570.72,452.1 627.98,455.9 627.98,457.9 570.72,454.1 527.4,447.5 484.08,440.3 470.14,436.9 452.16,431 426.82,424.4 383.5,416.2" fill="#D95F02" fill-opacity="0.22"/><polygon points="383.5,401.6 426.82,415.25 452.16,422.4 470.14,431.8 484.08,436.5 527.4,448.2 570.72,453.7 627.98,456.2 627.98,458.2 570.72,455.7 527.4,450.2 484.08,438.5 470.14,433.8 452.16,424.4 426.82,417.25 383.5,404.6" fill="#7570B3" fill-opacity="0.22"/><polygon points="383.5,403.8 426.82,415.25 452.16,420.5 470.14,426 484.08,432.75 527.4,449 570.72,454.6 627.98,456.8 627.98,458.8 570.72,456.6 527.4,451 484.08,434.75 470.14,428 452.16,422.5 426.82,417.25 383.5,406.8" fill="#E7298A" fill-opacity="0.22"/><polygon points="383.5,455.4 426.82,470.9 452.16,479.6 470.14,484.6 484.08,486.7 527.4,491.2 570.72,494.3 627.98,495.25 627.98,497.25 570.72,496.3 527.4,493.2 484.08,488.7 470.14,486.6 452.16,481.6 426.82,472.9 383.5,458.4" fill="#66A61E" fill-opacity="0.22"/><polygon points="383.5,385.1 426.82,423 452.16,444.8 470.14,458 484.08,466.8 527.4,484 570.72,489.6 627.98,491.8 627.98,493.8 570.72,491.6 527.4,486 484.08,468.8 470.14,460 452.16,446.8 426.82,425 383.5,388.1" fill="#E6AB02" fill-opacity="0.22"/><polyline points="383.5,431.25 426.82,439 452.16,444.8 470.14,449 484.08,449.4 527.4,452.5 570.72,455.6 627.98,457.2" fill="none" stroke="#1B9E77" stroke-width="2.5" stroke-linejoin="round"/><polyline points="383.5,414.7 426.82,423.4 452.16,430 470.14,435.9 484.08,439.3 527.4,446.5 570.72,453.1 627.98,456.9" fill="none" stroke="#D95F02" stroke-width="2.5" stroke-linejoin="round"/><polyline points="383.5,403.1 426.82,416.25 452.16,423.4 470.14,432.8 484.08,437.5 527.4,449.2 570.72,454.7 627.98,457.2" fill="none" stroke="#7570B3" stroke-width="2.5" stroke-linejoin="round"/><polyline points="383.5,405.3 426.82,416.25 452.16,421.5 470.14,427 484.08,433.75 527.4,450 570.72,455.6 627.98,457.8" fill="none" stroke="#E7298A" stroke-width="2.5" stroke-linejoin="round"/><polyline points="383.5,456.9 426.82,471.9 452.16,480.6 470.14,485.6 484.08,487.7 527.4,492.2 570.72,495.3 627.98,496.25" fill="none" stroke="#66A61E" stroke-width="2.5" stroke-linejoin="round"/><polyline points="383.5,386.6 426.82,424 452.16,445.8 470.14,459 484.08,467.8 527.4,485 570.72,490.6 627.98,492.8" fill="none" stroke="#E6AB02" stroke-width="2.5" stroke-linejoin="round"/></g>
<g><rect x="61.25" y="532.3" width="268.75" height="24.4" fill="#D9D9D9"/><text x="195.62" y="550.05" text-anchor="middle" class="st">Experiment 7</text><rect x="61.25" y="556.7" width="268.75" height="122.2" fill="#EBEBEB"/><line x1="61.25" x2="330" y1="669.65" y2="669.65" class="mi"/><line x1="61.25" x2="330" y1="639.35" y2="639.35" class="mi"/><line x1="61.25" x2="330" y1="609.05" y2="609.05" class="mi"/><line x1="61.25" x2="330" y1="578.75" y2="578.75" class="mi"/><line x1="109.47" x2="109.47" y1="556.7" y2="678.9" class="mi"/><line x1="181.43" x2="181.43" y1="556.7" y2="678.9" class="mi"/><line x1="253.38" x2="253.38" y1="556.7" y2="678.9" class="mi"/><line x1="325.33" x2="325.33" y1="556.7" y2="678.9" class="mi"/><line x1="61.25" x2="330" y1="654.5" y2="654.5" class="ma"/><line x1="57.85" x2="61.25" y1="654.5" y2="654.5" class="tk"/><text x="54.25" y="659.8" text-anchor="end" class="tl">0.1</text><line x1="61.25" x2="330" y1="624.2" y2="624.2" class="ma"/><line x1="57.85" x2="61.25" y1="624.2" y2="624.2" class="tk"/><text x="54.25" y="629.5" text-anchor="end" class="tl">0.2</text><line x1="61.25" x2="330" y1="593.9" y2="593.9" class="ma"/><line x1="57.85" x2="61.25" y1="593.9" y2="593.9" class="tk"/><text x="54.25" y="599.2" text-anchor="end" class="tl">0.3</text><line x1="61.25" x2="330" y1="563.6" y2="563.6" class="ma"/><line x1="57.85" x2="61.25" y1="563.6" y2="563.6" class="tk"/><text x="54.25" y="568.9" text-anchor="end" class="tl">0.4</text><line x1="73.5" x2="73.5" y1="556.7" y2="678.9" class="ma"/><line x1="73.5" x2="73.5" y1="678.9" y2="682.3" class="tk"/><text x="73.3" y="699.3" text-anchor="middle" class="xl">10<tspan dy="-6.8" class="sup">2</tspan></text><line x1="145.45" x2="145.45" y1="556.7" y2="678.9" class="ma"/><line x1="145.45" x2="145.45" y1="678.9" y2="682.3" class="tk"/><text x="145.25" y="699.3" text-anchor="middle" class="xl">10<tspan dy="-6.8" class="sup">2.5</tspan></text><line x1="217.4" x2="217.4" y1="556.7" y2="678.9" class="ma"/><line x1="217.4" x2="217.4" y1="678.9" y2="682.3" class="tk"/><text x="217.2" y="699.3" text-anchor="middle" class="xl">10<tspan dy="-6.8" class="sup">3</tspan></text><line x1="289.35" x2="289.35" y1="556.7" y2="678.9" class="ma"/><line x1="289.35" x2="289.35" y1="678.9" y2="682.3" class="tk"/><text x="289.15" y="699.3" text-anchor="middle" class="xl">10<tspan dy="-6.8" class="sup">3.5</tspan></text><polygon points="73.5,597 116.82,614.1 142.16,621.7 160.14,629.5 174.08,633 217.4,641.6 260.72,643.2 317.98,644.1 317.98,646.1 260.72,645.2 217.4,643.6 174.08,635 160.14,631.5 142.16,624.7 116.82,618.1 73.5,602" fill="#1B9E77" fill-opacity="0.22"/><polygon points="73.5,594.2 116.82,610 142.16,610.2 160.14,621.3 174.08,624 217.4,632.25 260.72,640 317.98,643.8 317.98,645.8 260.72,642 217.4,634.25 174.08,626 160.14,623.3 142.16,613.2 116.82,614 73.5,599.2" fill="#D95F02" fill-opacity="0.22"/><polygon points="73.5,577.6 116.82,632.9 142.16,651 160.14,653.5 174.08,654.1 217.4,654.1 260.72,654.75 317.98,655.7 317.98,657.7 260.72,656.75 217.4,656.1 174.08,656.1 160.14,655.5 142.16,653 116.82,634.9 73.5,579.6" fill="#7570B3" fill-opacity="0.22"/><polygon points="73.5,580.7 116.82,639.1 142.16,652 160.14,653.5 174.08,654.75 217.4,657.25 260.72,660.4 317.98,664.1 317.98,666.1 260.72,662.4 217.4,659.25 174.08,656.75 160.14,655.5 142.16,654 116.82,641.1 73.5,582.7" fill="#E7298A" fill-opacity="0.22"/><polygon points="73.5,628.2 116.82,645.4 142.16,651.6 160.14,654.9 174.08,657 217.4,662 260.72,666 317.98,669.1 317.98,671.1 260.72,668 217.4,664 174.08,659 160.14,656.9 142.16,653.6 116.82,647.4 73.5,630.2" fill="#66A61E" fill-opacity="0.22"/><polygon points="73.5,562.9 116.82,599.4 142.16,634.6 160.14,650.4 174.08,655.2 217.4,661 260.72,666 317.98,672.25 317.98,674.25 260.72,668 217.4,663 174.08,657.2 160.14,652.4 142.16,636.6 116.82,601.4 73.5,564.9" fill="#E6AB02" fill-opacity="0.22"/><polyline points="73.5,599.5 116.82,616.1 142.16,623.2 160.14,630.5 174.08,634 217.4,642.6 260.72,644.2 317.98,645.1" fill="none" stroke="#1B9E77" stroke-width="2.5" stroke-linejoin="round"/><polyline points="73.5,596.7 116.82,612 142.16,611.7 160.14,622.3 174.08,625 217.4,633.25 260.72,641 317.98,644.8" fill="none" stroke="#D95F02" stroke-width="2.5" stroke-linejoin="round"/><polyline points="73.5,578.6 116.82,633.9 142.16,652 160.14,654.5 174.08,655.1 217.4,655.1 260.72,655.75 317.98,656.7" fill="none" stroke="#7570B3" stroke-width="2.5" stroke-linejoin="round"/><polyline points="73.5,581.7 116.82,640.1 142.16,653 160.14,654.5 174.08,655.75 217.4,658.25 260.72,661.4 317.98,665.1" fill="none" stroke="#E7298A" stroke-width="2.5" stroke-linejoin="round"/><polyline points="73.5,629.2 116.82,646.4 142.16,652.6 160.14,655.9 174.08,658 217.4,663 260.72,667 317.98,670.1" fill="none" stroke="#66A61E" stroke-width="2.5" stroke-linejoin="round"/><polyline points="73.5,563.9 116.82,600.4 142.16,635.6 160.14,651.4 174.08,656.2 217.4,662 260.72,667 317.98,673.25" fill="none" stroke="#E6AB02" stroke-width="2.5" stroke-linejoin="round"/></g>
<rect x="72.5" y="736.9" width="556" height="58.1" fill="#fff" stroke="#555" stroke-width="1.1"/><rect x="90.15" y="744.95" width="19.8" height="19.8" fill="#F2F2F2"/><rect x="90.15" y="744.95" width="19.8" height="19.8" fill="#1B9E77" fill-opacity="0.25" stroke="#1B9E77" stroke-width="1.9"/><line x1="91.8" x2="108.3" y1="754.85" y2="754.85" stroke="#1B9E77" stroke-width="1.9"/><text x="121.5" y="760.6" class="lg" style="letter-spacing:0.53px">Pres. Tree (greedy)</text><rect x="90.15" y="767.25" width="19.8" height="19.8" fill="#F2F2F2"/><rect x="90.15" y="767.25" width="19.8" height="19.8" fill="#D95F02" fill-opacity="0.25" stroke="#D95F02" stroke-width="1.9"/><line x1="91.8" x2="108.3" y1="777.15" y2="777.15" stroke="#D95F02" stroke-width="1.9"/><text x="121.5" y="783.3" class="lg" style="letter-spacing:0.6px">Pres. Tree (optimal)</text><rect x="269.95" y="744.95" width="19.8" height="19.8" fill="#F2F2F2"/><rect x="269.95" y="744.95" width="19.8" height="19.8" fill="#7570B3" fill-opacity="0.25" stroke="#7570B3" stroke-width="1.9"/><line x1="271.6" x2="288.1" y1="754.85" y2="754.85" stroke="#7570B3" stroke-width="1.9"/><text x="301.3" y="760.6" class="lg" style="letter-spacing:0.41px">Policy Tree (greedy)</text><rect x="269.95" y="767.25" width="19.8" height="19.8" fill="#F2F2F2"/><rect x="269.95" y="767.25" width="19.8" height="19.8" fill="#E7298A" fill-opacity="0.25" stroke="#E7298A" stroke-width="1.9"/><line x1="271.6" x2="288.1" y1="777.15" y2="777.15" stroke="#E7298A" stroke-width="1.9"/><text x="301.3" y="783.3" class="lg" style="letter-spacing:0.52px">Policy Tree (optimal)</text><rect x="457.2" y="744.95" width="19.8" height="19.8" fill="#F2F2F2"/><rect x="457.2" y="744.95" width="19.8" height="19.8" fill="#66A61E" fill-opacity="0.25" stroke="#66A61E" stroke-width="1.9"/><line x1="458.85" x2="475.35" y1="754.85" y2="754.85" stroke="#66A61E" stroke-width="1.9"/><text x="487.85" y="760.6" class="lg" style="letter-spacing:0.38px">Regress &amp; Compare</text><rect x="457.2" y="767.25" width="19.8" height="19.8" fill="#F2F2F2"/><rect x="457.2" y="767.25" width="19.8" height="19.8" fill="#E6AB02" fill-opacity="0.25" stroke="#E6AB02" stroke-width="1.9"/><line x1="458.85" x2="475.35" y1="777.15" y2="777.15" stroke="#E6AB02" stroke-width="1.9"/><text x="487.85" y="783.3" class="lg" style="letter-spacing:0.35px">Causal Forest</text>
<text x="350.6" y="718.6" text-anchor="middle" class="xt">Number of training points</text><text transform="translate(20.5,353.5) rotate(-90)" text-anchor="middle" class="yt">Mean regret</text><text y="828.0" class="cap"><tspan x="0.3" font-weight="bold" style="letter-spacing:1.6px">Fig.</tspan><tspan x="35.8" font-weight="bold">4</tspan><tspan x="56">Results</tspan><tspan x="113">for</tspan><tspan x="138.3">synthetic</tspan><tspan x="206">experiments</tspan><tspan x="293.8">with</tspan><tspan x="328.5">bias</tspan></text>
</svg>
</body></html>
